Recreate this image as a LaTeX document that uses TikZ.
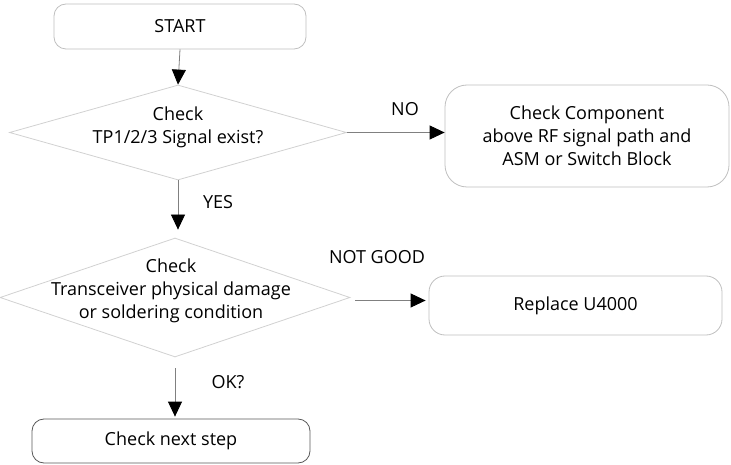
\documentclass[tikz,border=0pt]{standalone}
\usepackage{fontspec}
\setmainfont{Open Sans}
\usetikzlibrary{arrows.meta, shapes.geometric}
\tikzset{
    box/.style={draw=black!25, rounded corners=12pt, line width=0.8pt, align=center},
    decision/.style={draw=black!18, diamond, line width=0.8pt, inner sep=0pt},
    txt/.style={align=center, inner sep=0pt},
    flow/.style={draw=black!50, line width=0.8pt, -{Triangle[length=15pt, width=14pt, color=black]}}
}
\begin{document}
\begin{tikzpicture}[x=1pt, y=-1pt, font=\fontsize{18}{23}\selectfont]
    \useasboundingbox (0, 0) rectangle (731, 465);
    % 先画方框和菱形
    \node [box, minimum width=252pt, minimum height=45pt] (start) at (180, 26.5) {START};
    \node [decision, minimum width=337pt, minimum height=95pt] (check1) at (178, 132.5) {};
    \node [txt] (check1txt) at (178, 127.5) {Check\\TP1/2/3 Signal exist?};
    \node [box, rounded corners=22pt, minimum width=284pt, minimum height=102pt] (comp) at (587, 136)
        {Check Component\\above RF signal path and\\ASM or Switch Block};
    \node [decision, minimum width=350pt, minimum height=119pt] (check2) at (175, 297.5) {};
    \node [txt] (check2txt) at (171, 291) {Check\\Transceiver physical damage\\or soldering condition};
    \node [box, rounded corners=16pt, minimum width=293pt, minimum height=59pt] (replace) at (575.5, 305.5) {Replace U4000};
    \node [box, draw=black!65, minimum width=278pt, minimum height=44pt] (next) at (171, 441) {Check next step};
    % 再画箭头
    \draw [flow] (start.south) -- (check1.north);
    \draw [flow, shorten >=8pt] (check1.south) -- (check1.south |- check2.north);
    \draw [flow] (check1.east) -- (check1.east -| comp.west);
    \draw [flow, shorten <=5pt, shorten >=3pt] ([yshift=-3pt]check2.east) -- ([yshift=-3pt]check2.east -| replace.west);
    \draw [flow, shorten <=11pt, shorten >=2pt] (check2.south) -- (check2.south |- next.north);
    % 箭头上的文字
    \node [txt] (no) at (405, 109) {NO};
    \node [txt] (yes) at (218, 202) {YES};
    \node [txt] (notgood) at (377, 257) {NOT GOOD};
    \node [txt] (ok) at (228, 382) {OK?};
\end{tikzpicture}
\end{document}
